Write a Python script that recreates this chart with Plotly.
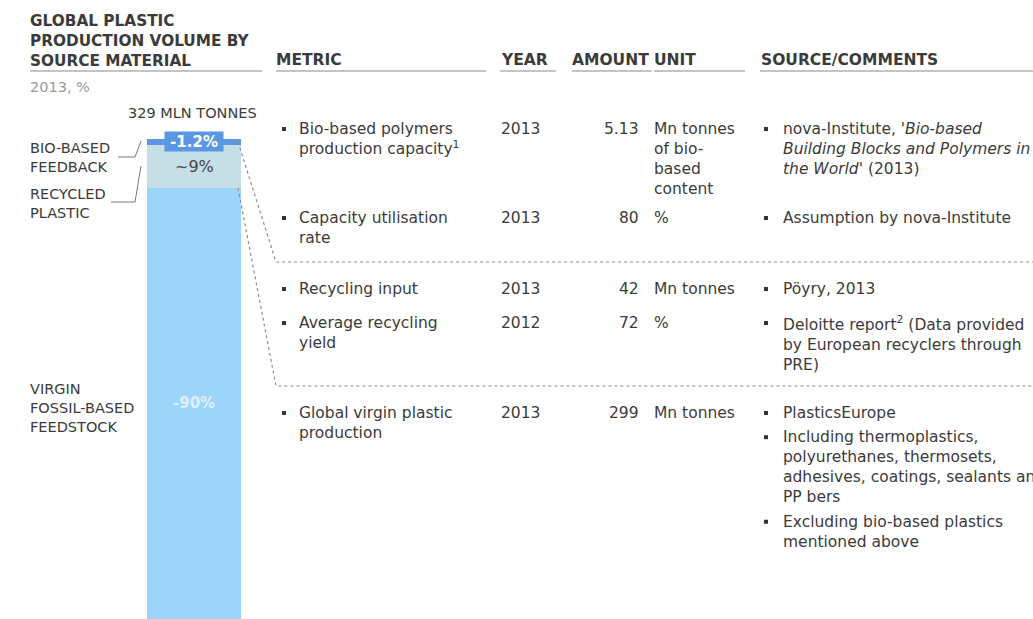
import plotly.graph_objects as go

# bar data (share of 329 Mn tonnes, %)
segments = ["Virgin fossil-based feedstock", "Recycled plastic", "Bio-based feedback"]
shares = [90, 9, 1.2]
share_labels = ["-90%", "~9%", "-1.2%"]
seg_colors = ["#9dd5fa", "#c6dee6", "#5b97e2"]

# table data
metrics = [
    ["Bio-based polymers", "production capacity<sup>1</sup>"],
    ["Capacity utilisation", "rate"],
    ["Recycling input"],
    ["Average recycling", "yield"],
    ["Global virgin plastic", "production"],
]
years = ["2013", "2013", "2013", "2012", "2013"]
amounts = ["5.13", "80", "42", "72", "299"]
units = [
    ["Mn tonnes", "of bio-", "based", "content"],
    ["%"],
    ["Mn tonnes"],
    ["%"],
    ["Mn tonnes"],
]
sources = [
    [["nova-Institute, '<i>Bio-based</i>", "<i>Building Blocks and Polymers in</i>", "<i>the World</i>' (2013)"]],
    [["Assumption by nova-Institute"]],
    [["Pöyry, 2013"]],
    [["Deloitte report<sup>2</sup> (Data provided", "by European recyclers through", "PRE)"]],
    [["PlasticsEurope"],
     ["Including thermoplastics,", "polyurethanes, thermosets,", "adhesives, coatings, sealants and", "PP bers"],
     ["Excluding bio-based plastics", "mentioned above"]],
]
row_y = [129, 218, 289, 323, 413]

W, H = 1033, 619
FONT = "DejaVu Sans"
DARK = "#3b3b3b"
BODY = 15.5


def px(x):
    return x / W


def py(y):
    return 1 - y / H


fig = go.Figure()
for name, val, col in zip(segments, shares, seg_colors):
    fig.add_trace(go.Bar(x=[0], y=[val], width=1, name=name,
                         marker=dict(color=col, line=dict(width=0)),
                         hoverinfo="name+y"))

ann = []
shapes = []


def text(x, y, rows, size=BODY, color=DARK, anchor="left", bold=False):
    # y is the centre of the first line; plotly spaces lines at 1.3 * size
    if isinstance(rows, str):
        rows = [rows]
    if bold:
        rows = ["<b>" + r + "</b>" for r in rows]
    yc = y + (len(rows) - 1) * 1.3 * size / 2
    dx = {"left": -2, "right": 2}.get(anchor, 0)
    ann.append(dict(x=px(x + dx), y=py(yc), xref="paper", yref="paper", text="<br>".join(rows),
                    showarrow=False, xanchor=anchor, yanchor="middle", align=anchor,
                    font=dict(family=FONT, size=size, color=color)))


def bullet(x, y):
    shapes.append(dict(type="rect", xref="paper", yref="paper", x0=px(x - 2), x1=px(x + 2),
                       y0=py(y - 2), y1=py(y + 2), fillcolor="#333333", line=dict(width=0)))


# left panel text
text(30, 21, ["GLOBAL PLASTIC", "PRODUCTION VOLUME BY", "SOURCE MATERIAL"], size=15.3, bold=True)
text(30, 87, "2013, %", size=14.5, color="#9a9a9a")
text(192, 113, "329 MLN TONNES", size=14.5, anchor="center")
text(30, 148, ["BIO-BASED", "FEEDBACK"], size=14.5)
text(30, 194, ["RECYCLED", "PLASTIC"], size=14.5)
text(30, 389, ["VIRGIN", "FOSSIL-BASED", "FEEDSTOCK"], size=14.5)

# labels inside the bar, placed at segment centres
base = 0
for i, (val, lab) in enumerate(zip(shares, share_labels)):
    mid = base + val / 2
    base += val
    if i == 0:
        ann.append(dict(x=0, y=mid, xref="x", yref="y", text="<b>" + lab + "</b>", showarrow=False,
                        font=dict(family=FONT, size=15, color="rgba(255,255,255,0.7)")))
    elif i == 1:
        ann.append(dict(x=0, y=mid, xref="x", yref="y", text=lab, showarrow=False,
                        font=dict(family=FONT, size=16, color="#444444")))
    else:
        ann.append(dict(x=0, y=mid, xref="x", yref="y", text="<b>" + lab + "</b>", showarrow=False,
                        bgcolor=seg_colors[2], width=58, height=19, borderpad=0,
                        font=dict(family=FONT, size=15, color="white")))

# table headers
for x, s in [(276, "METRIC"), (501, "YEAR"), (572, "AMOUNT"), (654, "UNIT"), (761, "SOURCE/COMMENTS")]:
    text(x, 60, s, size=15.5, bold=True)

# table rows
for i in range(len(metrics)):
    y0 = row_y[i]
    bullet(284, y0)
    text(299, y0, metrics[i])
    text(639, y0, amounts[i], anchor="right")
    text(501, y0, years[i])
    text(654, y0, units[i])
    yy = y0
    for block in sources[i]:
        bullet(766, yy)
        text(783, yy, block)
        yy += 1.3 * BODY * len(block) + 4

# underlines
for x0, x1 in [(30, 262), (276, 486), (500, 556), (572, 652), (654, 745), (760, 1033)]:
    shapes.append(dict(type="line", xref="paper", yref="paper", x0=px(x0), x1=px(x1),
                       y0=py(71), y1=py(71), line=dict(color="#8a8a8a", width=1.2)))
# leader lines for left labels
for pts in [[(118, 157), (135, 157), (141, 141)], [(111, 202), (135, 202), (141, 166)]]:
    path = "M " + " L ".join(f"{px(a)},{py(b)}" for a, b in pts)
    shapes.append(dict(type="path", xref="paper", yref="paper", path=path,
                       line=dict(color="#777777", width=1)))
# dotted connectors from the bar to table sections
for pts in [[(238, 142), (276, 262), (1033, 262)], [(238, 188), (276, 386), (1033, 386)]]:
    path = "M " + " L ".join(f"{px(a)},{py(b)}" for a, b in pts)
    shapes.append(dict(type="path", xref="paper", yref="paper", path=path,
                       line=dict(color="#8c8c8c", width=1.2, dash="dot")))

fig.update_layout(
    width=W, height=H,
    margin=dict(l=0, r=0, t=0, b=0),
    paper_bgcolor="white", plot_bgcolor="rgba(0,0,0,0)",
    barmode="stack", bargap=0, showlegend=False,
    xaxis=dict(domain=[px(147), px(241)], range=[-0.5, 0.5], visible=False, fixedrange=True),
    yaxis=dict(domain=[0, py(139)], range=[0, sum(shares)], visible=False, fixedrange=True),
    annotations=ann, shapes=shapes,
)

fig.write_html("out.html", config={"displayModeBar": False},
               post_script="document.body.style.margin='0';")
